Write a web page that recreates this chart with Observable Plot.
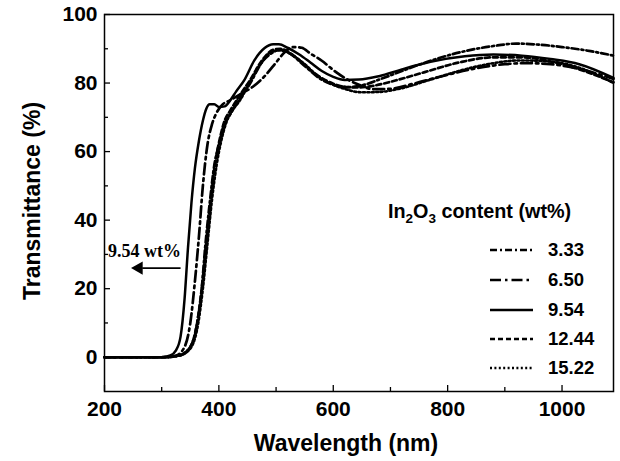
<!DOCTYPE html>
<html><head><meta charset="utf-8">
<script src="https://cdn.jsdelivr.net/npm/d3@7"></script>
<script src="https://cdn.jsdelivr.net/npm/@observablehq/plot@0.6"></script>
<style>body{margin:0;background:#fff}#chart{width:620px;height:461px}</style>
</head><body><div id="chart"></div><script>
// Series (In2O3 content, wt%)
const seriesNames = ["3.33", "6.50", "9.54", "12.44", "15.22"];

const wl_333 = [200,300,330,350,362,370,376,384,392,400,410,420,435,455,475,495,508,525,550,575,600,625,650,680,720,770,830,880,920,960,1000,1050,1090];
const t_333  = [0,0,0.5,3,10,20,32,45,56,62,68,71,75,80,86,89,89.8,88.5,85,81.5,79.5,78.8,79.3,81,83.5,86.5,89.3,90.8,91.5,91.2,90.5,89.3,88];

const wl_650 = [200,300,325,340,350,358,365,372,380,388,395,405,420,440,460,480,500,515,530,545,560,580,600,620,645,670,700,740,790,850,900,940,980,1020,1060,1090];
const t_650  = [0,0,0.5,3,10,22,35,50,62,68,71,73.5,75,77,79,82,86,89,90.5,90.3,88.6,86.5,83.8,81.5,79.5,78.2,78.3,79.8,82,84.3,85.5,85.8,85.5,84.5,82.8,81.2];

const wl_954 = [200,300,315,325,333,340,346,352,358,365,372,378,384,392,400,410,420,430,445,462,480,495,505,520,540,560,580,600,620,645,680,720,770,830,880,930,980,1030,1090];
const t_954  = [0,0,0.5,2,6,17,32,45,55,63,69,72.5,73.8,73.8,73,73.2,75,77.5,81,86.6,90.2,91.3,91.3,90.3,88.4,86,83.5,81.8,80.9,81,82,84,86.2,87.8,88.3,88,87,85.5,81.5];

const wl_1244 = [200,305,330,350,362,370,378,386,394,402,410,420,435,455,475,495,507,525,545,570,600,625,645,670,710,760,820,880,930,980,1030,1090];
const t_1244  = [0,0,0.5,3,10,20,33,46,57,64,69,72,76,81,86.5,89.7,90,88.7,86,82.5,79.8,78.8,78.7,79.2,80.8,83.2,86,87.5,87.5,86.3,84,80.2];

const wl_1522 = [200,305,332,352,364,372,380,388,396,404,412,422,437,456,475,491,505,515,530,549,570,591,620,649,680,720,770,830,880,925,970,1020,1060,1090];
const t_1522  = [0,0,0.5,3,10,20,33,46,56,63,68,71.5,75,80.8,86,89,89.5,89.3,88,85.7,82.5,80.2,78.3,77.3,77.4,78.5,81,84,85.8,86.6,86.4,85,82.5,80];

const xMajorTicks = [200, 400, 600, 800, 1000];
const xMinorTicks = [300, 500, 700, 900];
const yMajorTicks = [0, 20, 40, 60, 80, 100];
const yMinorTicks = [10, 30, 50, 70, 90];

const annotLabel = ["9.54 wt%"];
const annotTextPos = [{x: 206, y: 31}];
const annotArrow = [{x1: 333, y1: 26, x2: 266, y2: 26}];
const annotHead = [{x: 260, y: 26}];

const wls = [wl_333, wl_650, wl_954, wl_1244, wl_1522];
const ts = [t_333, t_650, t_954, t_1244, t_1522];
const dashes = ["7,3,2,3", "11,4,2.5,4", null, "5,3", "2,2.4"];
const widths = [2.7, 2.7, 2.5, 2.7, 2.6];

const table = seriesNames.flatMap((s, i) => wls[i].map((w, j) => ({series: s, wl: w, t: ts[i][j]})));

const lineMarks = seriesNames.map((s, i) => Plot.line(table.filter(d => d.series === s), {
  x: "wl", y: "t", stroke: "#000", strokeWidth: widths[i],
  strokeDasharray: dashes[i], curve: "monotone-x"
}));

const plot = Plot.plot({
  width: 620, height: 461,
  marginLeft: 104, marginRight: 7, marginTop: 14, marginBottom: 70,
  x: {domain: [200, 1090]},
  y: {domain: [-10, 100]},
  style: {fontFamily: "'Liberation Sans', Arial, sans-serif", fontWeight: "bold", color: "#000", background: "#fff", overflow: "visible"},
  marks: [
    ...lineMarks,
    Plot.frame({stroke: "#000", strokeWidth: 1.5}),
    Plot.axisX({ticks: xMajorTicks, tickSize: -6, tickFormat: () => "", label: null, strokeWidth: 1.3}),
    Plot.axisX({ticks: xMinorTicks, tickSize: -4, tickFormat: () => "", label: null, strokeWidth: 1.3}),
    Plot.axisX({ticks: xMajorTicks, tickSize: 0, tickPadding: 10, tickFormat: d => String(d), fontSize: 21, fontWeight: "bold", label: null}),
    Plot.axisY({ticks: yMajorTicks, tickSize: -6, tickFormat: () => "", label: null, strokeWidth: 1.3}),
    Plot.axisY({ticks: yMinorTicks, tickSize: -4, tickFormat: () => "", label: null, strokeWidth: 1.3}),
    Plot.axisY({ticks: yMajorTicks, tickSize: 0, tickPadding: 7, tickFormat: d => String(d), fontSize: 21, fontWeight: "bold", label: null}),
    Plot.text(["Wavelength (nm)"], {frameAnchor: "bottom", lineAnchor: "middle", textAnchor: "middle", dx: -13, dy: 52, fontSize: 23, fontWeight: "bold"}),
    Plot.text(["Transmittance (%)"], {frameAnchor: "left", lineAnchor: "middle", textAnchor: "middle", dx: -72, dy: -2, rotate: -90, fontSize: 23, fontWeight: "bold"}),
    Plot.text(annotTextPos, {x: "x", y: "y", text: () => annotLabel[0], textAnchor: "start", fontFamily: "'Liberation Serif', 'Times New Roman', serif", fontWeight: "bold", fontSize: 18}),
    Plot.link(annotArrow, {x1: "x1", y1: "y1", x2: "x2", y2: "y2", stroke: "#000", strokeWidth: 1.6}),
    Plot.dot(annotHead, {x: "x", y: "y", symbol: "triangle", r: 5, rotate: -90, fill: "#000", stroke: null})
  ]
});
document.getElementById("chart").appendChild(plot);

// Legend (inside the plot area, lower right)
const svg = d3.select(plot);
const lg = svg.append("g").attr("font-family", "'Liberation Sans', Arial, sans-serif").attr("font-weight", "bold").attr("fill", "#000").attr("text-anchor", "start");
const title = lg.append("text").attr("x", 388).attr("y", 218).attr("font-size", 19.8);
title.append("tspan").text("In");
title.append("tspan").attr("font-size", 13.5).attr("dy", 5).text("2");
title.append("tspan").attr("dy", -5).text("O");
title.append("tspan").attr("font-size", 13.5).attr("dy", 5).text("3");
title.append("tspan").attr("dy", -5).text(" content (wt%)");
const rowY = [250, 280, 310, 339, 368];
seriesNames.forEach((s, i) => {
  lg.append("line").attr("x1", 490).attr("x2", 533).attr("y1", rowY[i]).attr("y2", rowY[i])
    .attr("stroke", "#000").attr("stroke-width", 2.6).attr("stroke-dasharray", dashes[i]);
  lg.append("text").attr("x", 548).attr("y", rowY[i]).attr("dy", "0.35em").attr("font-size", 18.5).text(s);
});
</script></body></html>
